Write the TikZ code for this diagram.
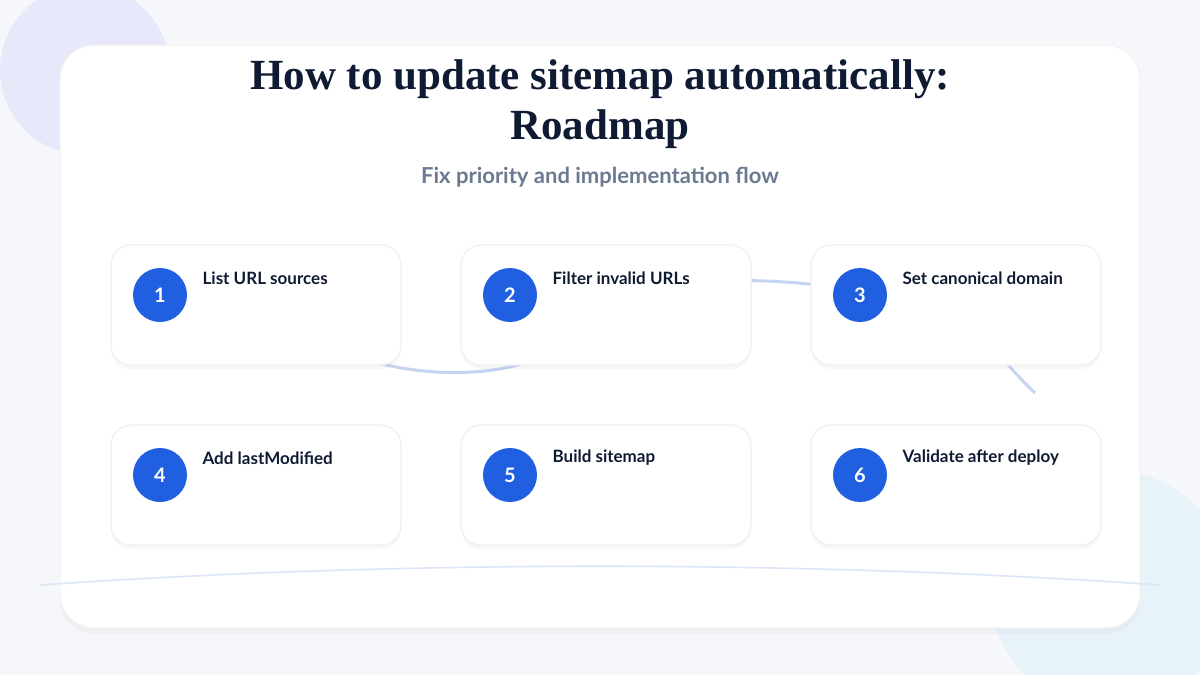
\documentclass[tikz,border=0pt]{standalone}
\usepackage{fontspec}
\setmainfont{Liberation Serif}
\newfontfamily\labelfont{Lato}
\usetikzlibrary{positioning,shadows}

\definecolor{navy}{HTML}{0F1A33}
\definecolor{subgray}{HTML}{6B7A90}
\definecolor{stepblue}{HTML}{1F5FE0}
\definecolor{linkblue}{HTML}{C5D5F0}
\definecolor{bgpage}{HTML}{F6F7FA}

\begin{document}
\begin{tikzpicture}[x=0.5pt,y=-0.5pt,
                    semithick]
  \tikzstyle{stepcard}=[draw=black!6,fill=white,rounded corners=10pt,
                        minimum width=145pt,minimum height=60pt,
                        drop shadow={opacity=0.06,shadow xshift=0pt,shadow yshift=-2pt}]
  \tikzstyle{stepnum}=[circle,fill=stepblue,text=white,minimum size=27pt,inner sep=0pt,
                       font=\labelfont\bfseries\fontsize{10}{12}\selectfont]
  \tikzstyle{steptext}=[anchor=west,text=navy,inner sep=0pt,
                        font=\labelfont\bfseries\fontsize{8.5}{10}\selectfont]
  \tikzstyle{link}=[linkblue,line width=1.5pt]

  % page and backdrop
  \fill[bgpage] (0,0) rectangle (1200,675);
  \useasboundingbox (0,0) rectangle (1200,675);
  \fill[blue!6!bgpage] (85,70) circle (85);
  \fill[cyan!6!bgpage] (1110,590) circle (120);
  \fill[white,rounded corners=17pt,draw=black!5,
        drop shadow={opacity=0.05,shadow xshift=0pt,shadow yshift=-3pt}]
        (60,45) rectangle (1140,628);
  \draw[linkblue!60,line width=0.8pt] (40,585) .. controls (400,560) and (800,560) .. (1160,585);

  % titles
  \node[text=navy,font=\bfseries\fontsize{21.5}{25}\selectfont,align=center] (title) at (600,104)
       {How to update sitemap automatically:\\Roadmap};
  \node[text=subgray,font=\labelfont\bfseries\fontsize{11}{13}\selectfont] (sub) at (600,177)
       {Fix priority and implementation flow};

  % card centres
  \coordinate (p1) at (256,305);
  \coordinate (p2) at (606,305);
  \coordinate (p3) at (956,305);
  \coordinate (p4) at (256,485);
  \coordinate (p5) at (606,485);
  \coordinate (p6) at (956,485);
  \coordinate (tail) at (1035,393);

  % connectors
  \draw[link] (p1) .. controls (380,400) and (560,390) .. (p2);
  \draw[link] (p2) .. controls (700,270) and (780,275) .. (p3);
  \draw[link] (p3) .. controls (980,330) and (1010,370) .. (tail);

  % steps
  \foreach \n/\txt in {1/List URL sources,2/Filter invalid URLs,3/Set canonical domain,
                       4/Add lastModified,5/Build sitemap,6/Validate after deploy}{
    \node[stepcard] (card\n) at (p\n) {};
    \node[stepnum] (num\n) at ([shift={(-96,-10)}]p\n) {\n};
    \node[steptext] (lab\n) at ([shift={(-54,-27)}]p\n) {\txt};
  }
\end{tikzpicture}
\end{document}
